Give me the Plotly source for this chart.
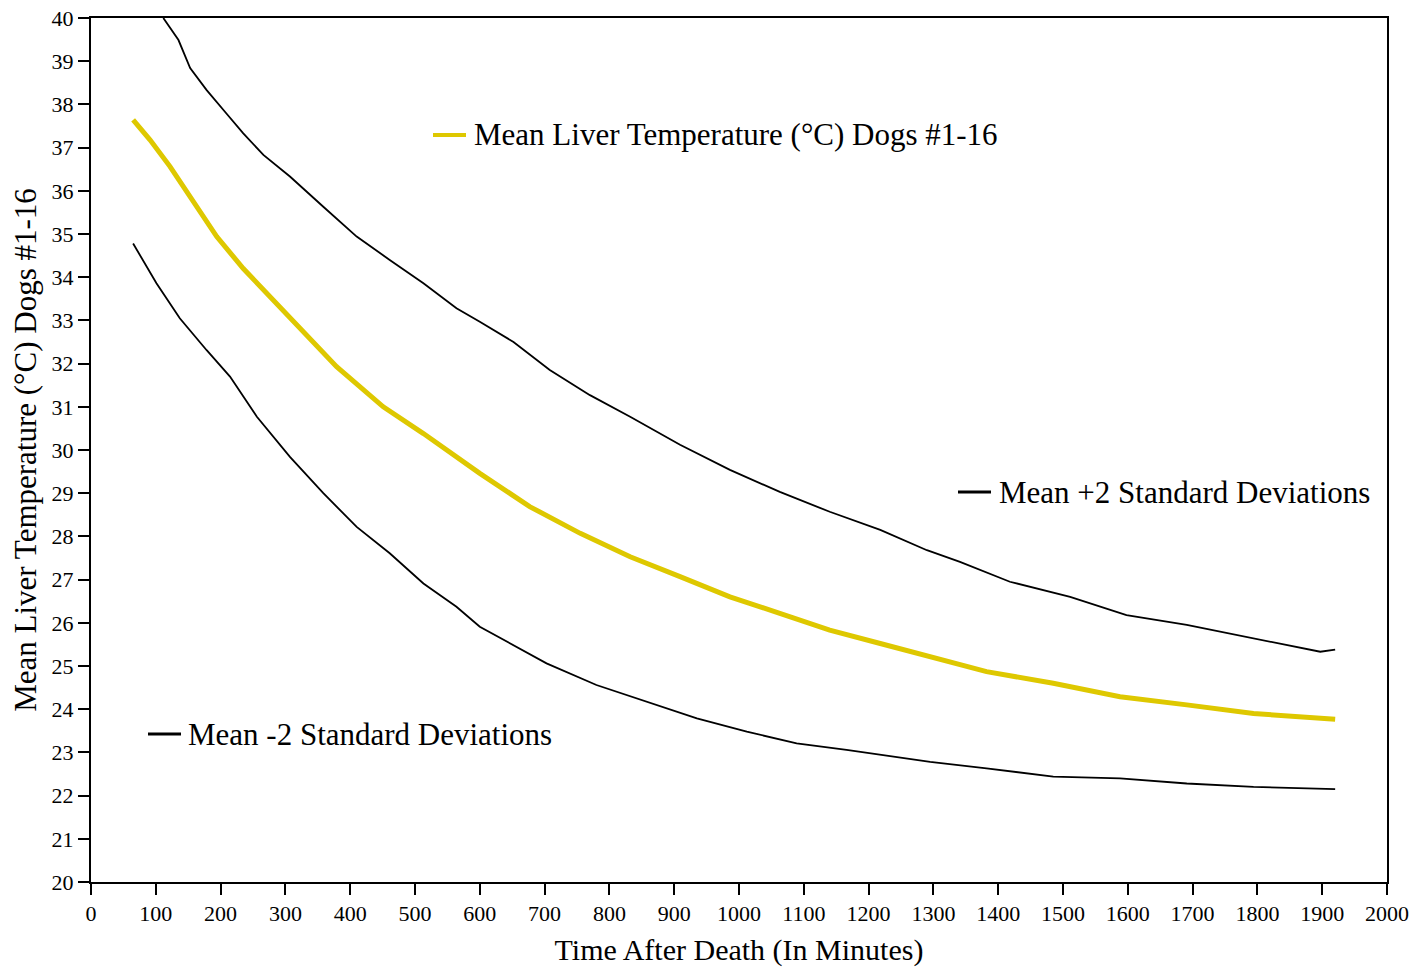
import plotly.graph_objects as go

# Time after death (minutes) and temperatures (°C)
mean_t = [65, 91, 122, 153, 194, 235, 292, 317, 379, 451, 513, 600, 677, 755,
          832, 909, 986, 1063, 1140, 1218, 1295, 1382, 1485, 1588, 1691, 1794, 1920]
mean_y = [37.64, 37.18, 36.56, 35.86, 34.94, 34.20, 33.30, 32.90, 31.93, 31.00,
          30.38, 29.46, 28.69, 28.07, 27.53, 27.07, 26.60, 26.22, 25.83, 25.52, 25.21,
          24.87, 24.60, 24.29, 24.10, 23.90, 23.77]

upper_t = [111.6, 135, 153, 178.5, 209, 235, 266, 307, 358.5, 410, 461, 513, 564, 600,
           652, 708, 770, 832, 909, 986, 1063, 1140, 1218, 1290, 1341, 1418, 1511, 1598,
           1691, 1794, 1897, 1920]
upper_y = [40.0, 39.49, 38.84, 38.33, 37.79, 37.33, 36.83, 36.33, 35.63, 34.94, 34.40,
           33.86, 33.28, 32.97, 32.50, 31.85, 31.27, 30.77, 30.12, 29.54, 29.03, 28.57,
           28.15, 27.68, 27.41, 26.95, 26.60, 26.18, 25.95, 25.64, 25.33, 25.38]

lower_t = [65, 101, 137, 178.5, 214.5, 256, 307, 358.5, 410, 461, 513, 564, 600, 652,
           703, 780, 858, 935, 1012, 1089, 1166, 1243, 1295, 1382, 1485, 1588, 1691,
           1794, 1920]
lower_y = [34.78, 33.86, 33.05, 32.31, 31.70, 30.77, 29.84, 29.00, 28.22, 27.61, 26.91,
           26.37, 25.91, 25.49, 25.06, 24.56, 24.17, 23.79, 23.48, 23.21, 23.06, 22.90,
           22.78, 22.63, 22.44, 22.40, 22.28, 22.20, 22.15]

x_ticks = list(range(0, 2001, 100))
y_ticks = list(range(20, 41, 1))

labels = {
    "mean": "Mean Liver Temperature (°C) Dogs #1-16",
    "upper": "Mean +2 Standard Deviations",
    "lower": "Mean -2 Standard Deviations",
}

YELLOW = "#DEC800"
FONT = "Liberation Serif, Times New Roman, serif"

fig = go.Figure()
fig.add_trace(go.Scatter(x=upper_t, y=upper_y, mode="lines",
                         line=dict(color="black", width=1.8), name=labels["upper"]))
fig.add_trace(go.Scatter(x=lower_t, y=lower_y, mode="lines",
                         line=dict(color="black", width=1.8), name=labels["lower"]))
fig.add_trace(go.Scatter(x=mean_t, y=mean_y, mode="lines",
                         line=dict(color=YELLOW, width=5), name=labels["mean"]))

W, H = 1412, 971
L, R, T, B = 91, 25, 18, 89
pw, ph = W - L - R, H - T - B

def px(x):
    return (x - L) / pw

def py(y):
    return 1 - (y - T) / ph

# in-plot legend entries: short line + text
legend_items = [
    (labels["mean"], YELLOW, 4, 433, 466, 135, 472),
    (labels["upper"], "black", 3, 958, 991, 492, 997),
    (labels["lower"], "black", 3, 148, 181, 734, 186),
]
for text, col, w, x0, x1, yy, tx in legend_items:
    fig.add_shape(type="line", xref="paper", yref="paper",
                  x0=px(x0), x1=px(x1), y0=py(yy), y1=py(yy),
                  line=dict(color=col, width=w))
    fig.add_annotation(text=text, xref="paper", yref="paper", x=px(tx), y=py(yy),
                       xanchor="left", yanchor="middle", showarrow=False,
                       font=dict(family=FONT, size=31, color="black"))

axis_common = dict(showline=True, linecolor="black", linewidth=2, mirror=True,
                   ticks="outside", ticklen=11, tickwidth=2, tickcolor="black",
                   showgrid=False, zeroline=False, automargin=False,
                   tickfont=dict(family=FONT, size=22, color="black"))

fig.update_layout(
    width=W, height=H,
    margin=dict(l=L, r=R, t=T, b=B, autoexpand=False),
    paper_bgcolor="white", plot_bgcolor="white",
    showlegend=False,
    xaxis=dict(range=[0, 2000], tickvals=x_ticks, ticktext=[str(v) for v in x_ticks],
               title=dict(text="Time After Death (In Minutes)",
                          font=dict(family=FONT, size=30, color="black"), standoff=14),
               **axis_common),
    yaxis=dict(range=[20, 40], tickvals=y_ticks, ticktext=[str(v) for v in y_ticks],
               title=dict(text=labels["mean"],
                          font=dict(family=FONT, size=31, color="black"), standoff=6),
               **axis_common),
)

fig.write_html("out.html")
